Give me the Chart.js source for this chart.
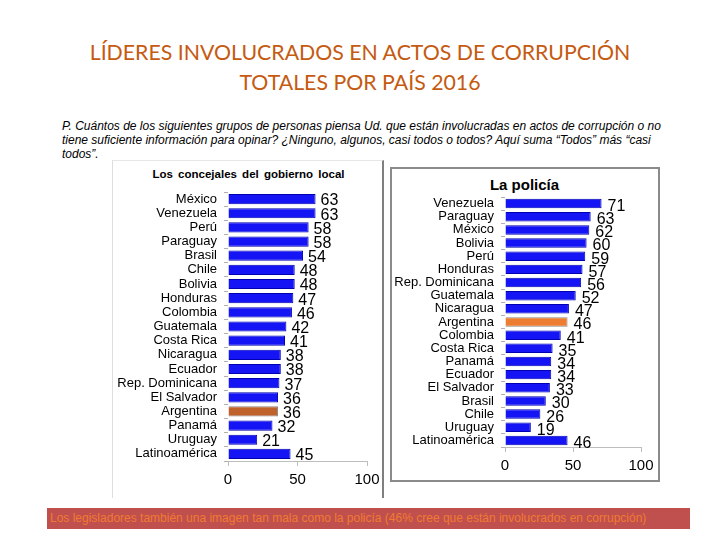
<!DOCTYPE html>
<html>
<head>
<meta charset="utf-8">
<script src="https://cdn.jsdelivr.net/npm/chart.js@4/dist/chart.umd.min.js"></script>
<style>
  html, body { margin:0; padding:0; background:#fff; }
  body { width:720px; height:540px; position:relative; overflow:hidden; font-family:"Liberation Sans", Arial, sans-serif; }
  .abs { position:absolute; }
  #title { left:0; top:37px; width:720px; text-align:center; font-family:Lato, "Open Sans", sans-serif; font-size:21.3px; line-height:30px; color:#c55a11; }
  #sub { left:62px; top:119px; width:650px; font-size:12px; line-height:14px; font-style:italic; color:#000; white-space:nowrap; }
  #lt { left:112px; top:168px; width:273px; text-align:center; font-size:11.5px; font-weight:bold; word-spacing:2px; }
  #rt { left:390px; top:176px; width:269px; text-align:center; font-size:15px; font-weight:bold; }
  #lbox { left:112px; top:160px; width:272px; height:338px; border-left:1px solid #dedede; border-top:1px solid #e6e6e6; border-right:2px solid #7f7f7f; box-sizing:border-box; }
  #rbox { left:390px; top:167px; width:270px; height:315px; border:2px solid #8a8a8a; box-sizing:border-box; }
  #foot { left:47px; top:508px; width:643px; height:21px; background:#c0504d; color:#f07a32; font-size:12px; line-height:21px; padding-left:3px; box-sizing:border-box; white-space:nowrap; }
</style>
</head>
<body>
<script>
const leftCategories = ["México","Venezuela","Perú","Paraguay","Brasil","Chile","Bolivia","Honduras","Colombia","Guatemala","Costa Rica","Nicaragua","Ecuador","Rep. Dominicana","El Salvador","Argentina","Panamá","Uruguay","Latinoamérica"];
const leftValues = [63,63,58,58,54,48,48,47,46,42,41,38,38,37,36,36,32,21,45];
const rightCategories = ["Venezuela","Paraguay","México","Bolivia","Perú","Honduras","Rep. Dominicana","Guatemala","Nicaragua","Argentina","Colombia","Costa Rica","Panamá","Ecuador","El Salvador","Brasil","Chile","Uruguay","Latinoamérica"];
const rightValues = [71,63,62,60,59,57,56,52,47,46,41,35,34,34,33,30,26,19,46];
const axisTicks = [0,50,100];
const highlight = "Argentina";
</script>

<div id="title" class="abs">LÍDERES INVOLUCRADOS EN ACTOS DE CORRUPCIÓN<br>TOTALES POR PAÍS 2016</div>
<div id="sub" class="abs">P. Cuántos de los siguientes grupos de personas piensa Ud. que están involucradas en actos de corrupción o no<br>tiene suficiente información para opinar? ¿Ninguno, algunos, casi todos o todos? Aquí suma “Todos” más “casi<br>todos”.</div>
<div id="lbox" class="abs"></div>
<div id="rbox" class="abs"></div>
<div id="lt" class="abs">Los concejales del gobierno local</div>
<div id="rt" class="abs">La policía</div>
<canvas id="c1" class="abs" width="273" height="338" style="left:112px;top:160px;width:273px;height:338px"></canvas>
<canvas id="c2" class="abs" width="269" height="314" style="left:390px;top:167px;width:269px;height:314px"></canvas>
<div id="foot" class="abs">Los legisladores también una imagen tan mala como la policía (46% cree que están involucrados en corrupción)</div>

<script>
const valueLabels = {
  id: 'valueLabels',
  afterDatasetsDraw(chart, args, opts) {
    const ctx = chart.ctx;
    const meta = chart.getDatasetMeta(0);
    const data = chart.data.datasets[0].data;
    ctx.save();
    ctx.font = '16px "Liberation Sans", Arial, sans-serif';
    ctx.fillStyle = '#000';
    ctx.textBaseline = 'middle';
    ctx.textAlign = 'left';
    meta.data.forEach((bar, i) => {
      ctx.fillText(String(data[i]), bar.x + opts.dx, bar.y + opts.dy);
    });
    ctx.restore();
  }
};

function makeChart(id, cats, vals, cfg) {
  const colors = cats.map(c => c === highlight ? cfg.hl : '#1414f5');
  const borders = cats.map(c => c === highlight ? '#8a8a8a' : '#0000b0');
  return new Chart(document.getElementById(id), {
    type: 'bar',
    data: {
      labels: cats,
      datasets: [{
        data: vals,
        backgroundColor: colors,
        borderColor: borders,
        borderWidth: 1,
        barPercentage: 0.72,
        categoryPercentage: 1
      }]
    },
    options: {
      indexAxis: 'y',
      responsive: false,
      animation: false,
      devicePixelRatio: 1,
      layout: { padding: { top: cfg.top, right: cfg.right, left: 0, bottom: 0 } },
      plugins: {
        legend: { display: false },
        tooltip: { enabled: false },
        title: { display: false },
        valueLabels: { dx: cfg.dx, dy: cfg.dy }
      },
      scales: {
        y: {
          afterFit: s => { s.width = cfg.yw; },
          grid: { display: true, drawOnChartArea: false, tickLength: 4, color: '#b0b0b0', offset: true },
          border: { display: false },
          ticks: { autoSkip: false, color: '#000', padding: 7, font: { size: 13, family: '"Liberation Sans", Arial, sans-serif' } }
        },
        x: {
          min: 0, max: 100,
          afterFit: s => { s.height = cfg.xh; },
          afterBuildTicks: s => { s.ticks = axisTicks.map(v => ({ value: v })); },
          grid: { display: true, drawOnChartArea: false, tickLength: 5, color: '#bdbdbd' },
          border: { display: true, color: '#bdbdbd' },
          ticks: { color: '#000', padding: 5, font: { size: 15, family: '"Liberation Sans", Arial, sans-serif' } }
        }
      }
    },
    plugins: [valueLabels]
  });
}

makeChart('c1', leftCategories, leftValues, { top: 32, right: 18, yw: 116, xh: 37, dx: 5, dy: 2, hl: '#c0622c' });
makeChart('c2', rightCategories, rightValues, { top: 30, right: 18, yw: 115, xh: 34, dx: 6, dy: 3, hl: '#ed7d31' });
</script>
</body>
</html>
